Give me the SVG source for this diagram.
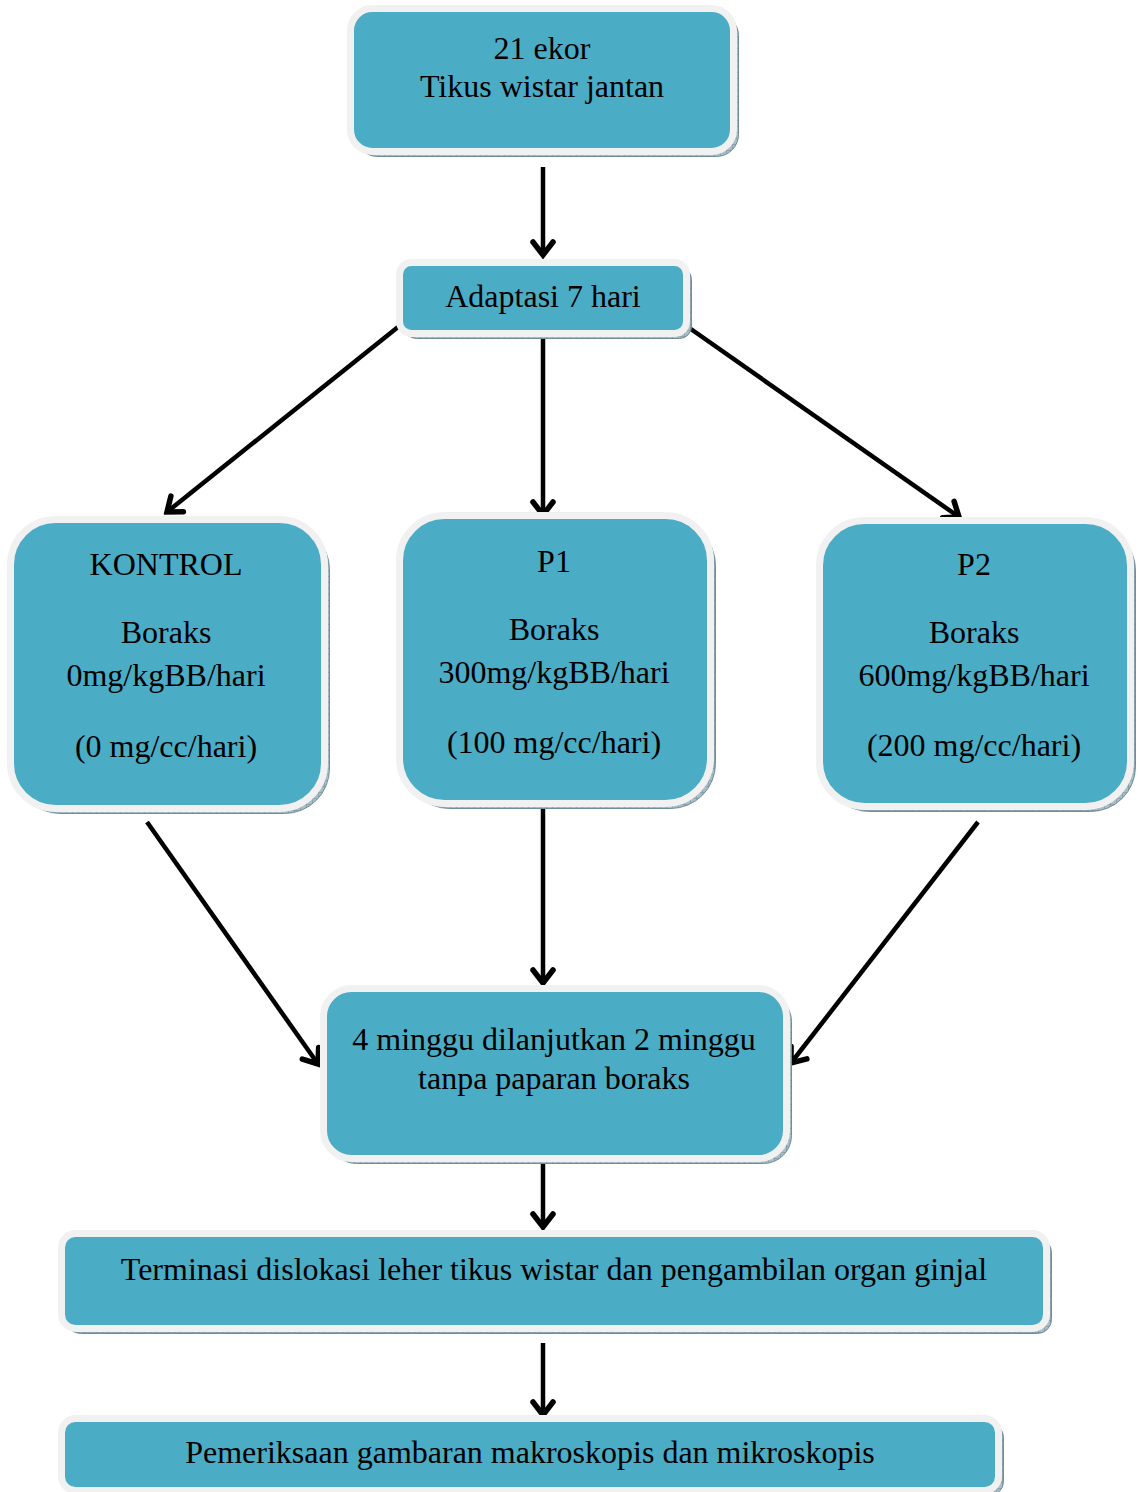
<svg xmlns="http://www.w3.org/2000/svg" width="1138" height="1492" viewBox="0 0 1138 1492">
<style>
.box{fill:#4BACC6;stroke:#F1F1F1;stroke-width:7}
.sh{fill:url(#hatch);stroke:#6f8e9b;stroke-width:1}
text{font-family:"Liberation Serif","Times New Roman",serif;font-size:32px;fill:#000;text-anchor:middle}
.conn line{stroke:#000;stroke-width:4.5;marker-end:url(#arr)}
</style>
<defs>
<pattern id="hatch" width="6" height="6" patternUnits="userSpaceOnUse">
<rect width="6" height="6" fill="#a9bdc6"/>
<path d="M0,0H6M0,0V6" stroke="#5f7f8c" stroke-width="0.8"/>
</pattern>
<marker id="arr" markerUnits="userSpaceOnUse" viewBox="-20 -14 24 28" markerWidth="24" markerHeight="28" refX="0" refY="0" orient="auto">
<path d="M-13,-10 L0,0 L-13,10" fill="none" stroke="#000" stroke-width="5.5" stroke-linecap="round" stroke-linejoin="miter"/>
</marker>
</defs>
<rect width="1138" height="1492" fill="#fff"/>

<g class="conn" id="connectors">
<line x1="543" y1="167" x2="543" y2="255"/>
<line x1="398" y1="327" x2="167" y2="512"/>
<line x1="543" y1="335" x2="543" y2="515"/>
<line x1="688" y1="327" x2="959" y2="517"/>
<line x1="147" y1="822" x2="318" y2="1064"/>
<line x1="543" y1="808" x2="543" y2="983"/>
<line x1="978" y1="822" x2="791" y2="1063"/>
<line x1="543" y1="1163" x2="543" y2="1227"/>
<line x1="543" y1="1343" x2="543" y2="1415"/>
</g>

<g id="n1">
<rect class="sh" x="355.5" y="13.5" width="383" height="143" rx="22"/>
<rect class="box" x="350.5" y="8.5" width="383" height="143" rx="22"/>
<text x="542" y="59">21 ekor</text>
<text x="542" y="97">Tikus wistar jantan</text>
</g>

<g id="n2">
<rect class="sh" x="404.5" y="267.5" width="287" height="71" rx="12"/>
<rect class="box" x="399.5" y="262.5" width="287" height="71" rx="12"/>
<text x="543" y="307">Adaptasi 7 hari</text>
</g>

<g id="kontrol">
<rect class="sh" x="15.5" y="524.5" width="314" height="289" rx="45"/>
<rect class="box" x="10.5" y="519.5" width="314" height="289" rx="45"/>
<text x="166" y="575">KONTROL</text>
<text x="166" y="643">Boraks</text>
<text x="166" y="686">0mg/kgBB/hari</text>
<text x="166" y="757">(0 mg/cc/hari)</text>
</g>

<g id="p1">
<rect class="sh" x="404.5" y="520.5" width="311" height="288" rx="45"/>
<rect class="box" x="399.5" y="515.5" width="311" height="288" rx="45"/>
<text x="554" y="572">P1</text>
<text x="554" y="640">Boraks</text>
<text x="554" y="683">300mg/kgBB/hari</text>
<text x="554" y="753">(100 mg/cc/hari)</text>
</g>

<g id="p2">
<rect class="sh" x="824.5" y="525.5" width="311" height="286" rx="45"/>
<rect class="box" x="819.5" y="520.5" width="311" height="286" rx="45"/>
<text x="974" y="575">P2</text>
<text x="974" y="643">Boraks</text>
<text x="974" y="686">600mg/kgBB/hari</text>
<text x="974" y="756">(200 mg/cc/hari)</text>
</g>

<g id="n4">
<rect class="sh" x="328.5" y="993.5" width="463" height="170" rx="28"/>
<rect class="box" x="323.5" y="988.5" width="463" height="170" rx="28"/>
<text x="554" y="1050">4 minggu dilanjutkan 2 minggu</text>
<text x="554" y="1089">tanpa paparan boraks</text>
</g>

<g id="n5">
<rect class="sh" x="66.5" y="1238.5" width="985" height="95" rx="14"/>
<rect class="box" x="61.5" y="1233.5" width="985" height="95" rx="14"/>
<text x="554" y="1280">Terminasi dislokasi leher tikus wistar dan pengambilan organ ginjal</text>
</g>

<g id="n6">
<rect class="sh" x="66.5" y="1423.5" width="937" height="72" rx="14"/>
<rect class="box" x="61.5" y="1418.5" width="937" height="72" rx="14"/>
<text x="530" y="1463">Pemeriksaan gambaran makroskopis dan mikroskopis</text>
</g>
</svg>
